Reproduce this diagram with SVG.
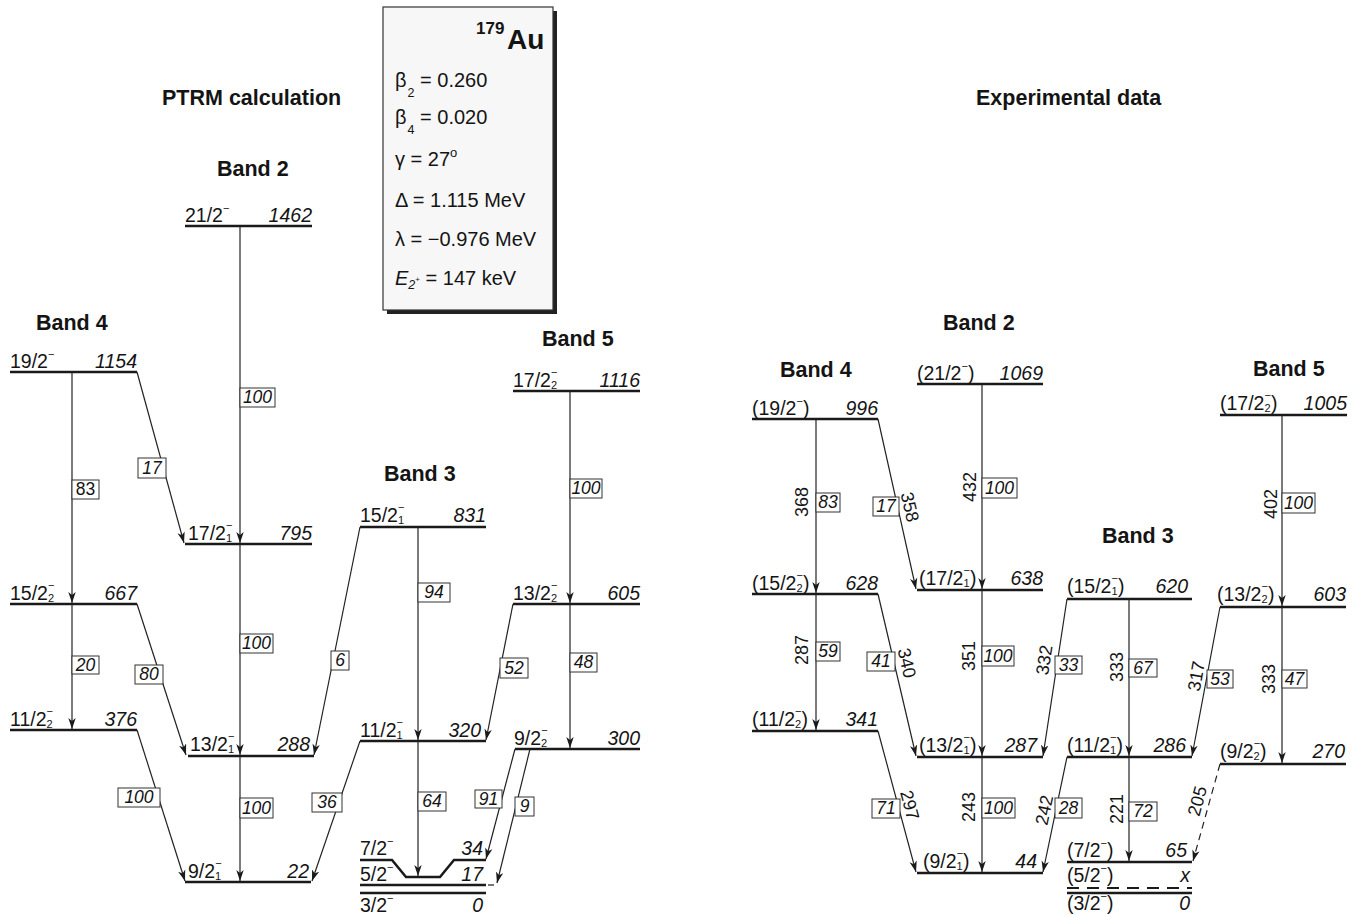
<svg xmlns="http://www.w3.org/2000/svg" width="1363" height="916" viewBox="0 0 1363 916">
<style>
text{font-family:"Liberation Sans",Arial,sans-serif;fill:#141414}
.hd{font-size:21.5px;font-weight:bold}
.sp{font-size:19.5px}
.en{font-size:19.5px;font-style:italic;text-anchor:end}
.s{font-size:11px;font-style:normal}
.bt{font-size:17.5px;font-style:italic;text-anchor:middle}
.bu{font-size:17.5px;text-anchor:middle}
.et{font-size:18px;text-anchor:middle}
.pt{font-size:20px}
.lv{stroke:#1a1a1a;stroke-width:2.5;fill:none}
.tr{stroke:#222;stroke-width:1.2;fill:none;marker-end:url(#ah)}
.bx{fill:#fff;stroke:#333;stroke-width:1}
</style>
<defs>
<marker id="ah" markerUnits="userSpaceOnUse" markerWidth="11" markerHeight="8" refX="11" refY="4" orient="auto">
<path d="M0,0.3 L11,4 L0,7.7 L3,4 Z" fill="#1a1a1a"/>
</marker>
</defs>
<rect width="1363" height="916" fill="#fff"/>

<!-- titles -->
<g id="titles">
<text class="hd" x="162" y="105">PTRM calculation</text>
<text class="hd" x="976" y="105">Experimental data</text>
<text class="hd" x="217" y="176">Band 2</text>
<text class="hd" x="36" y="330">Band 4</text>
<text class="hd" x="384" y="481">Band 3</text>
<text class="hd" x="542" y="346">Band 5</text>
<text class="hd" x="943" y="330">Band 2</text>
<text class="hd" x="780" y="377">Band 4</text>
<text class="hd" x="1102" y="543">Band 3</text>
<text class="hd" x="1253" y="376">Band 5</text>
</g>

<!-- parameter box -->
<g id="params">
<rect x="387" y="11" width="170" height="303" fill="#222"/>
<rect x="383" y="7" width="170" height="303" fill="#f7f7f7" stroke="#333" stroke-width="1.2"/>
<text x="476" y="34" style="font-size:17px;font-weight:bold">179</text>
<text x="507" y="49" style="font-size:28px;font-weight:bold">Au</text>
<text class="pt" x="395" y="87">β<tspan style="font-size:12.5px" dx="1" dy="10">2</tspan><tspan dy="-10"> = 0.260</tspan></text>
<text class="pt" x="395" y="124">β<tspan style="font-size:12.5px" dx="1" dy="10">4</tspan><tspan dy="-10"> = 0.020</tspan></text>
<text class="pt" x="395" y="166">γ = 27<tspan style="font-size:13px" dy="-9">o</tspan></text>
<text class="pt" x="395" y="207">Δ = 1.115 MeV</text>
<text class="pt" x="395" y="246">λ = −0.976 MeV</text>
<text class="pt" x="395" y="285"><tspan font-style="italic">E</tspan><tspan style="font-size:12.5px;font-style:italic" dy="4">2</tspan><tspan style="font-size:8px" dy="-7">+</tspan><tspan dy="3"> = 147 keV</tspan></text>
</g>

<!-- LEFT levels -->
<g id="L21"><path class="lv" d="M185,226 H312"/><text class="sp" x="185" y="222">21/2<tspan class="s" dy="-10">−</tspan></text><text class="en" x="312" y="222">1462</text></g>
<g id="L19"><path class="lv" d="M10,372 H137"/><text class="sp" x="10" y="368">19/2<tspan class="s" dy="-10">−</tspan></text><text class="en" x="137" y="368">1154</text></g>
<g id="L17_1"><path class="lv" d="M185,544 H312"/><text class="sp" x="188" y="540">17/2<tspan class="s" dy="2">1</tspan><tspan class="s" dx="-6.1" dy="-13">−</tspan></text><text class="en" x="312" y="540">795</text></g>
<g id="L15_2"><path class="lv" d="M10,604 H137"/><text class="sp" x="10" y="600">15/2<tspan class="s" dy="2">2</tspan><tspan class="s" dx="-6.1" dy="-13">−</tspan></text><text class="en" x="137" y="600">667</text></g>
<g id="L11_2"><path class="lv" d="M10,730 H137"/><text class="sp" x="10" y="726">11/2<tspan class="s" dy="2">2</tspan><tspan class="s" dx="-6.1" dy="-13">−</tspan></text><text class="en" x="137" y="726">376</text></g>
<g id="L13_1"><path class="lv" d="M188,756 H314"/><text class="sp" x="190" y="751">13/2<tspan class="s" dy="2">1</tspan><tspan class="s" dx="-6.1" dy="-13">−</tspan></text><text class="en" x="310" y="751">288</text></g>
<g id="L9_1"><path class="lv" d="M185,882 H311"/><text class="sp" x="188" y="878">9/2<tspan class="s" dy="2">1</tspan><tspan class="s" dx="-6.1" dy="-13">−</tspan></text><text class="en" x="309" y="878">22</text></g>
<g id="L15_1"><path class="lv" d="M360,527 H486"/><text class="sp" x="360" y="522">15/2<tspan class="s" dy="2">1</tspan><tspan class="s" dx="-6.1" dy="-13">−</tspan></text><text class="en" x="486" y="522">831</text></g>
<g id="L11_1"><path class="lv" d="M360,741 H486"/><text class="sp" x="360" y="737">11/2<tspan class="s" dy="2">1</tspan><tspan class="s" dx="-6.1" dy="-13">−</tspan></text><text class="en" x="481" y="737">320</text></g>
<g id="L17_2"><path class="lv" d="M513,391 H640"/><text class="sp" x="513" y="387">17/2<tspan class="s" dy="2">2</tspan><tspan class="s" dx="-6.1" dy="-13">−</tspan></text><text class="en" x="640" y="387">1116</text></g>
<g id="L13_2"><path class="lv" d="M513,604 H640"/><text class="sp" x="513" y="600">13/2<tspan class="s" dy="2">2</tspan><tspan class="s" dx="-6.1" dy="-13">−</tspan></text><text class="en" x="640" y="600">605</text></g>
<g id="L9_2"><path class="lv" d="M515,749 H640"/><text class="sp" x="514" y="745">9/2<tspan class="s" dy="2">2</tspan><tspan class="s" dx="-6.1" dy="-13">−</tspan></text><text class="en" x="640" y="745">300</text></g>
<g id="L7"><path class="lv" d="M360,860 H392 L406,877 H440 L454,860 H486"/><text class="sp" x="360" y="855">7/2<tspan class="s" dy="-10">−</tspan></text><text class="en" x="483" y="855">34</text></g>
<g id="L5"><path class="lv" d="M360,885 H486"/><path d="M488,885 H494" stroke="#1a1a1a" stroke-width="1.2"/><text class="sp" x="360" y="881">5/2<tspan class="s" dy="-10">−</tspan></text><text class="en" x="483" y="881">17</text></g>
<g id="L3"><path class="lv" d="M360,893 H486"/><text class="sp" x="360" y="912">3/2<tspan class="s" dy="-10">−</tspan></text><text class="en" x="483" y="912">0</text></g>

<!-- RIGHT levels -->
<g id="R21"><path class="lv" d="M917,384 H1043"/><text class="sp" x="917" y="380">(21/2<tspan class="s" dy="-10">−</tspan><tspan dy="10">)</tspan></text><text class="en" x="1043" y="380">1069</text></g>
<g id="R19"><path class="lv" d="M752,419 H878"/><text class="sp" x="752" y="415">(19/2<tspan class="s" dy="-10">−</tspan><tspan dy="10">)</tspan></text><text class="en" x="878" y="415">996</text></g>
<g id="R15_2"><path class="lv" d="M752,594 H878"/><text class="sp" x="752" y="590">(15/2<tspan class="s" dy="2">2</tspan><tspan class="s" dx="-6.1" dy="-13">−</tspan><tspan dy="11">)</tspan></text><text class="en" x="878" y="590">628</text></g>
<g id="R17_1"><path class="lv" d="M917,590 H1043"/><text class="sp" x="919" y="585">(17/2<tspan class="s" dy="2">1</tspan><tspan class="s" dx="-6.1" dy="-13">−</tspan><tspan dy="11">)</tspan></text><text class="en" x="1043" y="585">638</text></g>
<g id="R11_2"><path class="lv" d="M752,731 H878"/><text class="sp" x="752" y="726">(11/2<tspan class="s" dy="2">2</tspan><tspan class="s" dx="-6.1" dy="-13">−</tspan><tspan dy="11">)</tspan></text><text class="en" x="878" y="726">341</text></g>
<g id="R13_1"><path class="lv" d="M917,757 H1043"/><text class="sp" x="919" y="752">(13/2<tspan class="s" dy="2">1</tspan><tspan class="s" dx="-6.1" dy="-13">−</tspan><tspan dy="11">)</tspan></text><text class="en" x="1037" y="752">287</text></g>
<g id="R9_1"><path class="lv" d="M917,873 H1043"/><text class="sp" x="923" y="868">(9/2<tspan class="s" dy="2">1</tspan><tspan class="s" dx="-6.1" dy="-13">−</tspan><tspan dy="11">)</tspan></text><text class="en" x="1037" y="868">44</text></g>
<g id="R15_1"><path class="lv" d="M1067,599 H1192"/><text class="sp" x="1067" y="593">(15/2<tspan class="s" dy="2">1</tspan><tspan class="s" dx="-6.1" dy="-13">−</tspan><tspan dy="11">)</tspan></text><text class="en" x="1188" y="593">620</text></g>
<g id="R11_1"><path class="lv" d="M1067,757 H1192"/><text class="sp" x="1067" y="752">(11/2<tspan class="s" dy="2">1</tspan><tspan class="s" dx="-6.1" dy="-13">−</tspan><tspan dy="11">)</tspan></text><text class="en" x="1186" y="752">286</text></g>
<g id="R7"><path class="lv" d="M1067,862 H1192"/><text class="sp" x="1067" y="857">(7/2<tspan class="s" dy="-10">−</tspan><tspan dy="10">)</tspan></text><text class="en" x="1187" y="857">65</text></g>
<g id="R5"><path d="M1067,888 H1192" stroke="#1a1a1a" stroke-width="2" stroke-dasharray="12 8"/><text class="sp" x="1067" y="882">(5/2<tspan class="s" dy="-10">−</tspan><tspan dy="10">)</tspan></text><text class="en" x="1190" y="882">x</text></g>
<g id="R3"><path class="lv" d="M1067,893 H1192"/><text class="sp" x="1067" y="910">(3/2<tspan class="s" dy="-10">−</tspan><tspan dy="10">)</tspan></text><text class="en" x="1190" y="910">0</text></g>
<g id="R17_2"><path class="lv" d="M1220,415 H1347"/><text class="sp" x="1220" y="410">(17/2<tspan class="s" dy="2">2</tspan><tspan class="s" dx="-6.1" dy="-13">−</tspan><tspan dy="11">)</tspan></text><text class="en" x="1347" y="410">1005</text></g>
<g id="R13_2"><path class="lv" d="M1220,607 H1346"/><text class="sp" x="1217" y="601">(13/2<tspan class="s" dy="2">2</tspan><tspan class="s" dx="-6.1" dy="-13">−</tspan><tspan dy="11">)</tspan></text><text class="en" x="1346" y="601">603</text></g>
<g id="R9_2"><path class="lv" d="M1220,764 H1346"/><text class="sp" x="1220" y="758">(9/2<tspan class="s" dy="2">2</tspan><tspan class="s" dx="-6.1" dy="-13">−</tspan><tspan dy="11">)</tspan></text><text class="en" x="1345" y="758">270</text></g>

<!-- connectors -->
<g id="connectors">
<path class="tr" d="M240,226 V543"/>
<path class="tr" d="M240,544 V755"/>
<path class="tr" d="M240,756 V881"/>
<path class="tr" d="M72,372 V603"/>
<path class="tr" d="M137,372 L184,543"/>
<path class="tr" d="M72,604 V729"/>
<path class="tr" d="M137,604 L186,755"/>
<path class="tr" d="M137,730 L185,881"/>
<path class="tr" d="M360,527 L314,755"/>
<path class="tr" d="M418,527 V740"/>
<path class="tr" d="M418,741 V876"/>
<path class="tr" d="M360,741 L312,881"/>
<path class="tr" d="M570,391 V603"/>
<path class="tr" d="M570,604 V748"/>
<path class="tr" d="M513,604 L486,740"/>
<path class="tr" d="M515,749 L486,859"/>
<path class="tr" d="M530,749 L497,883"/>

<path class="tr" d="M982,384 V589"/>
<path class="tr" d="M982,590 V756"/>
<path class="tr" d="M982,757 V872"/>
<path class="tr" d="M816,419 V593"/>
<path class="tr" d="M878,419 L916,589"/>
<path class="tr" d="M816,594 V730"/>
<path class="tr" d="M878,594 L916,756"/>
<path class="tr" d="M878,731 L916,872"/>
<path class="tr" d="M1067,599 L1043,756"/>
<path class="tr" d="M1129,599 V756"/>
<path class="tr" d="M1067,757 L1043,872"/>
<path class="tr" d="M1129,757 V861"/>
<path class="tr" d="M1282,415 V606"/>
<path class="tr" d="M1282,607 V763"/>
<path class="tr" d="M1220,607 L1192,756"/>
<path class="tr" d="M1220,764 L1193,861" stroke-dasharray="7 5"/>

<!-- intensity boxes left -->
<rect class="bx" x="240" y="388" width="35" height="19"/><text class="bt" x="257.5" y="403">100</text>
<rect class="bx" x="240" y="634" width="33" height="19"/><text class="bt" x="256.5" y="649">100</text>
<rect class="bx" x="240" y="798" width="33" height="20"/><text class="bt" x="256.5" y="814">100</text>
<rect class="bx" x="72" y="480" width="27" height="19"/><text class="bu" x="85.5" y="495">83</text>
<rect class="bx" x="138" y="458" width="28" height="20"/><text class="bt" x="152" y="474">17</text>
<rect class="bx" x="72" y="656" width="27" height="18"/><text class="bt" x="85.5" y="671">20</text>
<rect class="bx" x="135" y="665" width="28" height="19"/><text class="bt" x="149" y="680">80</text>
<rect class="bx" x="118" y="788" width="42" height="19"/><text class="bt" x="139" y="803">100</text>
<rect class="bx" x="331" y="651" width="18" height="19"/><text class="bt" x="340" y="666">6</text>
<rect class="bx" x="418" y="583" width="32" height="19"/><text class="bt" x="434" y="598">94</text>
<rect class="bx" x="418" y="792" width="28" height="19"/><text class="bt" x="432" y="807">64</text>
<rect class="bx" x="312" y="793" width="30" height="19"/><text class="bt" x="327" y="808">36</text>
<rect class="bx" x="570" y="479" width="32" height="19"/><text class="bt" x="586" y="494">100</text>
<rect class="bx" x="570" y="653" width="27" height="19"/><text class="bt" x="583.5" y="668">48</text>
<rect class="bx" x="500" y="658" width="28" height="20"/><text class="bt" x="514" y="674">52</text>
<rect class="bx" x="475" y="790" width="27" height="18"/><text class="bt" x="488.5" y="805">91</text>
<rect class="bx" x="515" y="797" width="19" height="19"/><text class="bt" x="524.5" y="812">9</text>

<!-- intensity boxes right -->
<rect class="bx" x="982" y="478" width="35" height="20"/><text class="bt" x="999.5" y="494">100</text>
<rect class="bx" x="982" y="646" width="32" height="20"/><text class="bt" x="998" y="662">100</text>
<rect class="bx" x="982" y="798" width="33" height="20"/><text class="bt" x="998.5" y="814">100</text>
<rect class="bx" x="816" y="493" width="24" height="19"/><text class="bt" x="828" y="508">83</text>
<rect class="bx" x="873" y="497" width="26" height="19"/><text class="bt" x="886" y="512">17</text>
<rect class="bx" x="816" y="642" width="24" height="19"/><text class="bt" x="828" y="657">59</text>
<rect class="bx" x="867" y="652" width="28" height="19"/><text class="bt" x="881" y="667">41</text>
<rect class="bx" x="872" y="799" width="28" height="19"/><text class="bt" x="886" y="814">71</text>
<rect class="bx" x="1055" y="656" width="27" height="18"/><text class="bt" x="1068.5" y="671">33</text>
<rect class="bx" x="1129" y="659" width="28" height="18"/><text class="bt" x="1143" y="674">67</text>
<rect class="bx" x="1055" y="798" width="27" height="20"/><text class="bt" x="1068.5" y="814">28</text>
<rect class="bx" x="1129" y="802" width="28" height="19"/><text class="bt" x="1143" y="817">72</text>
<rect class="bx" x="1282" y="493" width="33" height="20"/><text class="bt" x="1298.5" y="509">100</text>
<rect class="bx" x="1282" y="670" width="25" height="18"/><text class="bt" x="1294.5" y="685">47</text>
<rect class="bx" x="1207" y="670" width="26" height="18"/><text class="bt" x="1220" y="685">53</text>

<!-- gamma energies (experimental) -->
<text class="et" transform="translate(969.5,487) rotate(-90)" y="6.4">432</text>
<text class="et" transform="translate(969,656) rotate(-90)" y="6.4">351</text>
<text class="et" transform="translate(969,807) rotate(-90)" y="6.4">243</text>
<text class="et" transform="translate(802,502) rotate(-90)" y="6.4">368</text>
<text class="et" transform="translate(802,650) rotate(-90)" y="6.4">287</text>
<text class="et" transform="translate(910,507) rotate(77)" y="6.4">358</text>
<text class="et" transform="translate(907,663) rotate(77)" y="6.4">340</text>
<text class="et" transform="translate(910,805) rotate(75)" y="6.4">297</text>
<text class="et" transform="translate(1044,660) rotate(-81)" y="6.4">332</text>
<text class="et" transform="translate(1116.5,667) rotate(-90)" y="6.4">333</text>
<text class="et" transform="translate(1044,810) rotate(-78)" y="6.4">242</text>
<text class="et" transform="translate(1116.5,809) rotate(-90)" y="6.4">221</text>
<text class="et" transform="translate(1271,504) rotate(-90)" y="6.4">402</text>
<text class="et" transform="translate(1268.5,679) rotate(-90)" y="6.4">333</text>
<text class="et" transform="translate(1196,676) rotate(-80)" y="6.4">317</text>
<text class="et" transform="translate(1197,801) rotate(-75)" y="6.4">205</text>
</g>
</svg>
